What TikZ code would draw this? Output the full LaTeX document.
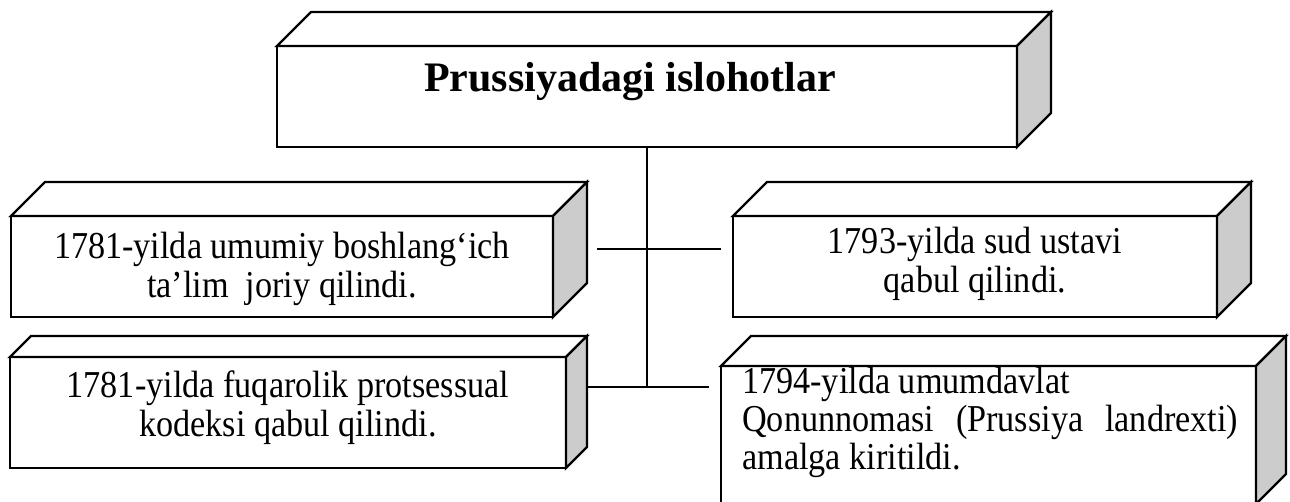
\documentclass[tikz,border=0pt]{standalone}
\usepackage{fontspec}
\setmainfont{Liberation Serif}
\newfontfamily\bodyfont{Liberation Serif}[FakeStretch=0.9]
\usetikzlibrary{calc}
\newcommand\cubebox[6]{% name, cx, cy, w, h, depth
  \node[front, minimum width=#4pt, minimum height=#5pt] (#1) at (#2,#3) {};
  \filldraw[topface] (#1.north west) -- ++(#6,-#6) -- ($(#1.north east)+(#6,-#6)$) -- (#1.north east) -- cycle;
  \filldraw[sideface] (#1.north east) -- ++(#6,-#6) -- ($(#1.south east)+(#6,-#6)$) -- (#1.south east) -- cycle;
  \draw[boxline] (#1.north west) rectangle (#1.south east);
}
\begin{document}
\begin{tikzpicture}[x=1pt,y=-1pt,
  front/.style={draw=black, fill=white, line width=2.4pt, outer sep=0pt, inner sep=0pt},
  boxline/.style={draw=black, line width=2.4pt, line join=miter},
  sideface/.style={draw=black, fill=black!20, line width=2.4pt, line join=miter},
  topface/.style={draw=black, fill=white, line width=2.4pt, line join=miter},
  link/.style={draw=black, line width=1.6pt},
  txt/.style={font=\bodyfont\fontsize{38}{39}\selectfont, align=center, inner sep=0pt},
  linetxt/.style={font=\bodyfont\fontsize{38}{39}\selectfont, inner sep=0pt, anchor=base west},
  titletxt/.style={font=\fontsize{42}{48}\selectfont\bfseries, inner sep=0pt},
]
\useasboundingbox (0,0) rectangle (1290,502);
\fill[white] (0,0) rectangle (1290,502);
\clip (0,0) rectangle (1290,502);

% boxes
\cubebox{top}{647}{96.5}{740}{101}{34}
\cubebox{l1}{282}{266.5}{542}{101}{34}
\cubebox{l2}{288}{412.5}{556}{111}{21}
\cubebox{r1}{975}{266.5}{484}{101}{34}
\cubebox{r2}{988.5}{435}{535}{138}{30}

% texts
\node[titletxt] (title) at (630,82) {Prussiyadagi islohotlar};
\node[txt] (t1) at (282,268.6) {1781-yilda umumiy boshlang‘ich\\ta’lim~ joriy qilindi.};
\node[txt] (t2) at (288,407.6) {1781-yilda fuqarolik protsessual\\kodeksi qabul qilindi.};
\node[txt] (t3) at (975,263.6) {1793-yilda sud ustavi\\qabul qilindi.};
\node[linetxt] (t4a) at (742,393) {1794-yilda umumdavlat};
\node[linetxt] (t4b) at (742,431) {\makebox[496pt][s]{Qonunnomasi\hfill(Prussiya\hfill landrexti)}};
\node[linetxt] (t4c) at (742,469) {amalga kiritildi.};

% connectors
\coordinate (junction) at (647,387);
\coordinate (u1) at (597,249);
\coordinate (u2) at (721,249);
\coordinate (l2side) at (587,387);
\coordinate (r2gap) at (709,387);
\draw[link] (top.south) -- (junction);
\draw[link] (u1) -- (u2);
\draw[link] (l2side) -- (r2gap);
\end{tikzpicture}
\end{document}
